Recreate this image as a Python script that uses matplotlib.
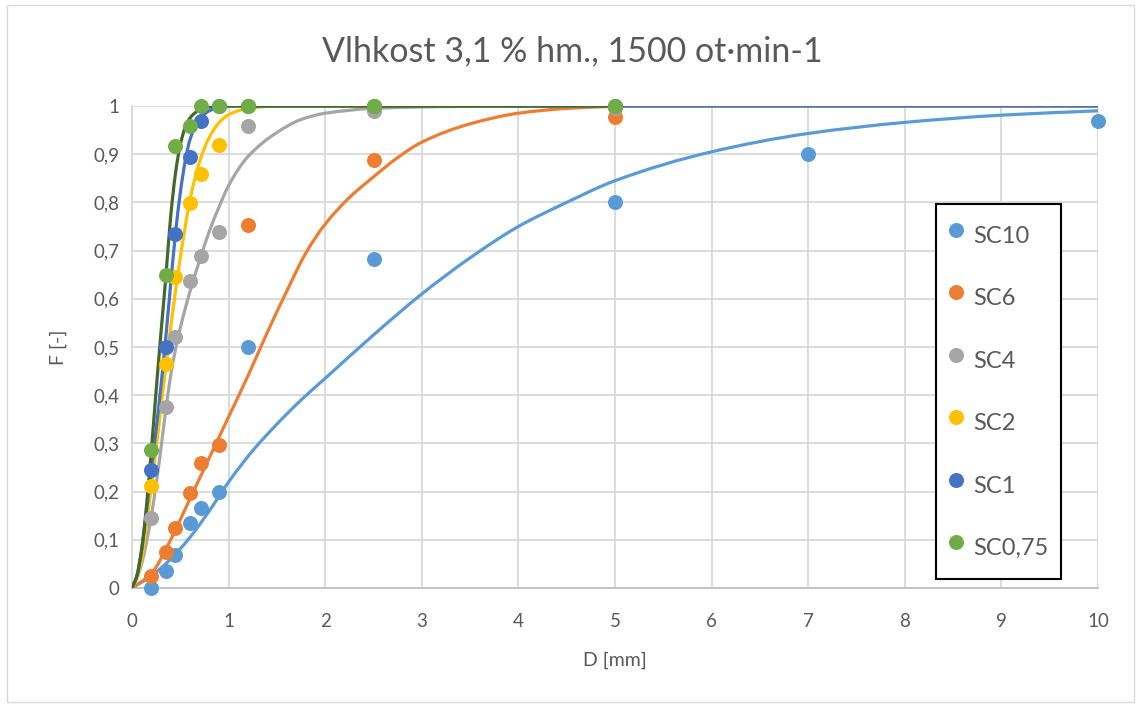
import matplotlib
matplotlib.use("Agg")
import numpy as np
import matplotlib.pyplot as plt
from matplotlib.patches import Rectangle, PathPatch
from matplotlib.path import Path
from matplotlib.ticker import FuncFormatter, MultipleLocator

plt.rcParams['font.family'] = ['Lato', 'DejaVu Sans']

# measured points: sieve size D [mm] and cumulative fraction F [-]
d_sieve = [0.2, 0.355, 0.45, 0.6, 0.71, 0.9, 1.2, 2.5, 5, 7, 10]
f_sc10 = [0.0, 0.035, 0.068, 0.135, 0.167, 0.2, 0.5, 0.683, 0.8, 0.9, 0.968]
f_sc6 = [0.025, 0.075, 0.124, 0.197, 0.259, 0.296, 0.753, 0.889, 0.977]
f_sc4 = [0.146, 0.375, 0.521, 0.636, 0.689, 0.739, 0.959, 0.99, 0.996]
f_sc2 = [0.212, 0.465, 0.646, 0.798, 0.859, 0.92, 1.0, 1.0, 1.0]
f_sc1 = [0.245, 0.5, 0.734, 0.895, 0.969, 1.0, 1.0, 1.0, 1.0]
f_sc075 = [0.287, 0.649, 0.916, 0.959, 1.0, 1.0, 1.0, 1.0, 1.0]

# fitted distribution curves
d_fit10 = [0, 0.2, 0.4, 0.6, 0.8, 1.0, 1.25, 1.5, 1.75, 2.0, 2.5, 3.0, 3.5,
           4.0, 4.5, 5.0, 6.0, 7.0, 8.0, 9.0, 10.0]
f_fit10 = [0, 0.025, 0.06, 0.105, 0.16, 0.22, 0.285, 0.34, 0.39, 0.435, 0.525,
           0.61, 0.685, 0.75, 0.8, 0.845, 0.905, 0.943, 0.966, 0.981, 0.99]

d_fit6 = [0, 0.2, 0.4, 0.6, 0.8, 1.0, 1.2, 1.4, 1.6, 1.8, 2.0, 2.25, 2.5,
          2.75, 3.0, 3.5, 4.0, 4.5, 5.0, 6.0, 10.0]
f_fit6 = [0, 0.03, 0.1, 0.185, 0.27, 0.355, 0.44, 0.53, 0.615, 0.695, 0.755,
          0.81, 0.853, 0.893, 0.925, 0.963, 0.985, 0.995, 0.999, 1.0, 1.0]

d_fit4 = [0, 0.05, 0.1, 0.15, 0.2, 0.25, 0.3, 0.35, 0.4, 0.45, 0.5, 0.6, 0.7,
          0.8, 0.9, 1.0, 1.2, 1.5, 1.75, 2.0, 2.5, 3.0, 4.0, 10.0]
f_fit4 = [0, 0.02, 0.05, 0.095, 0.15, 0.215, 0.29, 0.37, 0.44, 0.495, 0.54,
          0.615, 0.68, 0.74, 0.79, 0.835, 0.895, 0.945, 0.972, 0.985, 0.995,
          0.998, 1.0, 1.0]

d_fit2 = [0, 0.05, 0.1, 0.15, 0.2, 0.25, 0.3, 0.35, 0.4, 0.45, 0.5, 0.6, 0.7,
          0.8, 0.9, 1.0, 1.2, 1.5, 10.0]
f_fit2 = [0, 0.02, 0.06, 0.13, 0.212, 0.29, 0.375, 0.46, 0.54, 0.615, 0.685,
          0.805, 0.885, 0.935, 0.965, 0.982, 0.995, 1.0, 1.0]

d_fit1 = [0, 0.05, 0.1, 0.15, 0.2, 0.25, 0.3, 0.35, 0.4, 0.45, 0.5, 0.55,
          0.6, 0.7, 0.8, 0.9, 1.0, 10.0]
f_fit1 = [0, 0.025, 0.08, 0.16, 0.245, 0.33, 0.42, 0.52, 0.63, 0.735, 0.82,
          0.885, 0.93, 0.973, 0.99, 0.997, 1.0, 1.0]

d_fit075 = [0, 0.05, 0.1, 0.15, 0.2, 0.25, 0.3, 0.35, 0.4, 0.45, 0.5, 0.55,
            0.6, 0.7, 0.8, 1.0, 5.0]
f_fit075 = [0, 0.025, 0.08, 0.17, 0.285, 0.41, 0.53, 0.645, 0.77, 0.86,
            0.92, 0.955, 0.975, 0.992, 0.998, 1.0, 1.0]

labels = ['SC10', 'SC6', 'SC4', 'SC2', 'SC1', 'SC0,75']
point_colors = ['#5B9BD5', '#ED7D31', '#A5A5A5', '#FFC000', '#4472C4', '#70AD47']
line_colors = ['#5B9BD5', '#ED7D31', '#A5A5A5', '#FFC000', '#4472C4', '#43682B']
points = [f_sc10, f_sc6, f_sc4, f_sc2, f_sc1, f_sc075]
fits = [(d_fit10, f_fit10), (d_fit6, f_fit6), (d_fit4, f_fit4),
        (d_fit2, f_fit2), (d_fit1, f_fit1), (d_fit075, f_fit075)]

text_color = '#595959'
grid_color = '#D9D9D9'


def smooth_path(x, y):
    # monotone cubic segments written as Bezier curves, so the line
    # passes through every point without overshooting
    x = np.asarray(x, float)
    y = np.asarray(y, float)
    h = np.diff(x)
    s = np.diff(y) / h
    m = np.zeros_like(x)
    m[0], m[-1] = s[0], s[-1]
    for i in range(1, len(x) - 1):
        if s[i - 1] * s[i] > 0:
            w1 = 2 * h[i] + h[i - 1]
            w2 = h[i] + 2 * h[i - 1]
            m[i] = (w1 + w2) / (w1 / s[i - 1] + w2 / s[i])
    verts = [(x[0], y[0])]
    codes = [Path.MOVETO]
    for i in range(len(x) - 1):
        verts += [(x[i] + h[i] / 3, y[i] + m[i] * h[i] / 3),
                  (x[i + 1] - h[i] / 3, y[i + 1] - m[i + 1] * h[i] / 3),
                  (x[i + 1], y[i + 1])]
        codes += [Path.CURVE4] * 3
    return Path(verts, codes)


fig = plt.figure(figsize=(11.37, 7.04), dpi=100)
ax = fig.add_axes([132 / 1137, 1 - 588 / 704, 966 / 1137, 482 / 704])

fig.patches.append(Rectangle((7 / 1137, 2 / 704), 1127 / 1137, 697 / 704,
                             transform=fig.transFigure, fill=False,
                             edgecolor=grid_color, linewidth=1))

for (d, f), c in zip(fits, line_colors):
    ax.add_patch(PathPatch(smooth_path(d, f), fill=False, edgecolor=c,
                           lw=2.3, zorder=3, capstyle='round'))

handles = []
for f, c, lab in zip(points, point_colors, labels):
    h, = ax.plot(d_sieve[:len(f)], f, 'o', color=c, ms=10.8, mec='none',
                 label=lab, zorder=4, clip_on=False)
    handles.append(h)

ax.set_xlim(0, 10)
ax.set_ylim(0, 1)
ax.xaxis.set_major_locator(MultipleLocator(1))
ax.yaxis.set_major_locator(MultipleLocator(0.1))
ax.yaxis.set_major_formatter(FuncFormatter(
    lambda v, p: '0' if abs(v) < 1e-9 else ('1' if abs(v - 1) < 1e-9 else f'{v:.1f}'.replace('.', ','))))
ax.grid(True, color=grid_color, lw=1.3, zorder=0)
ax.set_axisbelow(True)
for s in ['top', 'right']:
    ax.spines[s].set_visible(False)
ax.spines['left'].set_color(grid_color)
ax.spines['bottom'].set_color('#BFBFBF')
ax.spines['left'].set_linewidth(1.3)
ax.spines['bottom'].set_linewidth(1.3)
ax.tick_params(length=0, labelsize=13.5, labelcolor=text_color)
ax.tick_params(axis='y', pad=9)
ax.tick_params(axis='x', pad=18)

fig.text(0.503, 0.927, 'Vlhkost 3,1 % hm., 1500 ot\u00b7min-1', ha='center',
         va='center', fontsize=24.5, color=text_color)
fig.text(0.541, 0.0625, 'D [mm]', ha='center', va='center', fontsize=14,
         color=text_color)
fig.text(0.051, 0.507, 'F [-]', ha='center', va='center', fontsize=14,
         color=text_color, rotation=90)

leg = ax.legend(handles=handles, loc='upper left',
                bbox_to_anchor=((936 - 132) / 966, (588 - 204) / 482),
                fontsize=17, frameon=True, fancybox=False, framealpha=1,
                edgecolor='black', borderpad=0.55, handlelength=0.6,
                handletextpad=0.42, labelspacing=1.1, handleheight=2.0,
                borderaxespad=0)
leg.get_frame().set_linewidth(1.5)
for t in leg.get_texts():
    t.set_color(text_color)

fig.savefig('out.png', dpi=100)
